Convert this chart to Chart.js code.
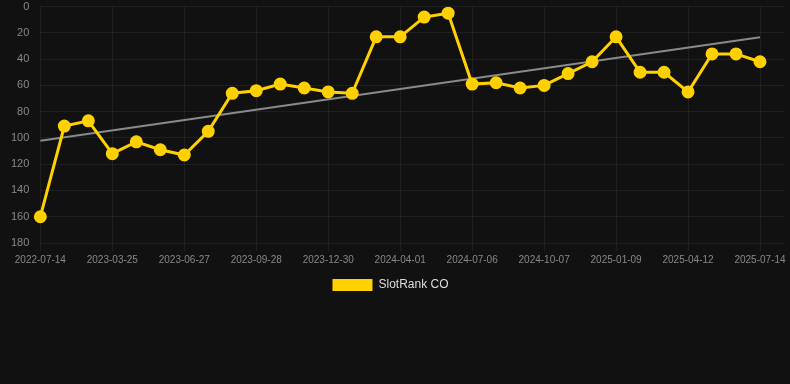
<!DOCTYPE html>
<html>
<head>
<meta charset="utf-8">
<script src="https://cdn.jsdelivr.net/npm/chart.js@4/dist/chart.umd.min.js"></script>
<style>
  html, body { margin: 0; padding: 0; background: #111111; overflow: hidden; }
  #wrap { width: 792px; height: 304px; position: relative; margin-top: -3px; }
</style>
</head>
<body>
<div id="wrap"><canvas id="c"></canvas></div>
<script>
const categories = [
  '2022-07-14','2022-10-20','2022-12-22','2023-03-25','2023-04-26','2023-05-27',
  '2023-06-27','2023-07-28','2023-08-28','2023-09-28','2023-10-29','2023-11-29',
  '2023-12-30','2024-01-30','2024-03-01','2024-04-01','2024-05-02','2024-06-04',
  '2024-07-06','2024-08-06','2024-09-06','2024-10-07','2024-11-07','2024-12-09',
  '2025-01-09','2025-02-09','2025-03-12','2025-04-12','2025-05-13','2025-06-13',
  '2025-07-14','2025-08-14'
];
const rankValues = [
  160, 91, 87, 112, 103, 109, 113, 95, 66, 64, 59, 62, 65, 66, 23, 23,
  8, 5, 59, 58, 62, 60, 51, 42, 23, 50, 50, 65, 36, 36, 42, null
];
const trendStart = 102.2;
const trendEnd = 23.4;
const yTicks = [0, 20, 40, 60, 80, 100, 120, 140, 160, 180];

const trendData = categories.map((_, i) => i === 0 ? trendStart : (i === 30 ? trendEnd : null));

const legendShift = {
  id: 'legendShift',
  afterLayout(chart) {
    if (chart.legend) { chart.legend.right -= 19; }
  }
};

new Chart(document.getElementById('c'), {
  type: 'line',
  data: {
    labels: categories,
    datasets: [
      {
        label: 'SlotRank CO',
        data: rankValues,
        borderColor: '#FFD100',
        backgroundColor: '#FFD100',
        borderWidth: 3,
        pointRadius: 5,
        pointBackgroundColor: '#FFD100',
        pointBorderColor: '#FFD100',
        tension: 0,
        order: 1
      },
      {
        label: 'trend',
        data: trendData,
        borderColor: '#8a8a8a',
        backgroundColor: '#8a8a8a',
        borderWidth: 2,
        pointRadius: 0,
        spanGaps: true,
        order: 2
      }
    ]
  },
  plugins: [legendShift],
  options: {
    responsive: true,
    maintainAspectRatio: false,
    animation: false,
    layout: { padding: { left: 8, right: 0, top: 0, bottom: 0 } },
    plugins: {
      legend: {
        position: 'bottom',
        labels: {
          color: '#dddddd',
          font: { family: 'Liberation Sans, Arial, sans-serif', size: 12 },
          boxWidth: 40,
          filter: (item) => item.datasetIndex === 0,
          generateLabels: (chart) => {
            const items = Chart.defaults.plugins.legend.labels.generateLabels(chart);
            items.forEach(it => { it.lineWidth = 0; });
            return items;
          }
        }
      },
      tooltip: { enabled: false }
    },
    scales: {
      x: {
        grid: { color: 'rgba(255,255,255,0.06)', drawTicks: true, tickColor: 'rgba(255,255,255,0.06)' },
        border: { display: false },
        ticks: {
          color: '#888888',
          font: { family: 'Liberation Sans, Arial, sans-serif', size: 10 },
          autoSkip: false,
          maxRotation: 0,
          callback: function(val, idx) { return idx % 3 === 0 && idx <= 30 ? categories[idx] : null; }
        }
      },
      y: {
        reverse: true,
        min: 0,
        max: 180,
        grid: { color: 'rgba(255,255,255,0.06)', tickColor: 'rgba(255,255,255,0)' },
        border: { display: false },
        afterBuildTicks: (axis) => { axis.ticks = yTicks.map(v => ({ value: v })); },
        ticks: {
          color: '#888888',
          font: { family: 'Liberation Sans, Arial, sans-serif', size: 11 },
          stepSize: 20
        }
      }
    }
  }
});
</script>
</body>
</html>
